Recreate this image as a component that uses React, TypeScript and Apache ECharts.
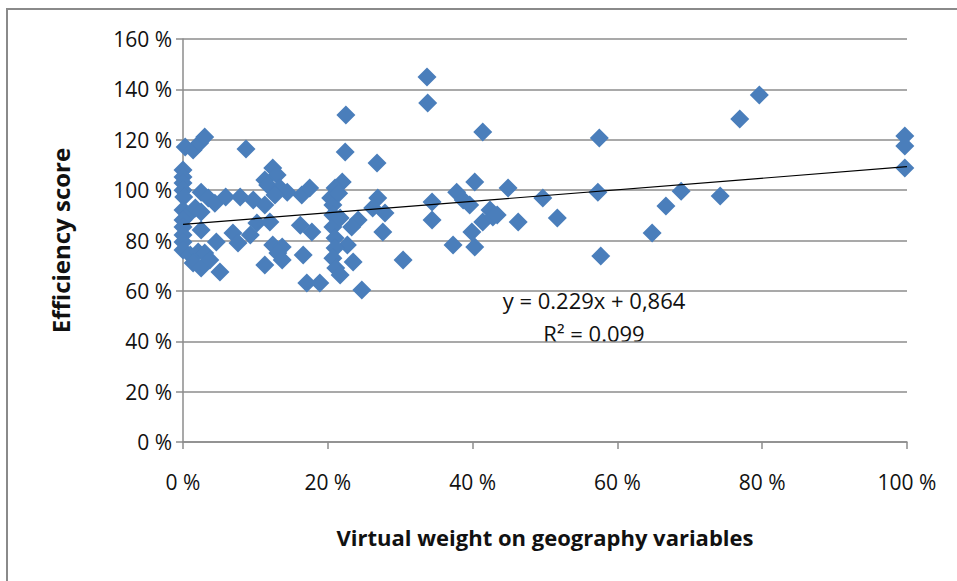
import React, { useEffect, useRef } from "react";
import * as echarts from "echarts";

// Virtual weight on geography variables (%)
const weightX: number[] = [
  0.3, 1.4, 2.3, 3.0, 8.7, 0, 0, 0, 0, 0.1, 2.5, 3.5, 4.4, 5.9, 7.9, 9.7,
  0, 0.7, 1.7, 2.5, 0, 0, 2.5, 0, 0, 4.6, 6.9, 7.6, 9.3, 0, 1.0, 2.1, 3.0,
  1.4, 2.5, 3.7, 5.1,
  12.4, 13.0, 11.3, 11.7, 13.4, 14.4, 16.4, 17.5, 12.7, 11.3, 10.2, 12.0,
  16.2, 17.8, 12.4, 13.7, 13.1, 13.7, 16.6, 11.3, 17.1, 18.9,
  22.5, 22.4, 26.8, 22.0, 21.0, 26.9, 27.9, 26.2, 27.6, 24.2, 23.3, 22.7,
  23.5, 30.4, 24.7, 20.4, 20.7, 20.7, 20.7, 21.0, 21.0, 20.7, 21.1, 21.7,
  21.7, 21.5,
  33.7, 33.8, 41.4, 34.4, 34.4, 37.8, 40.3, 38.7, 39.6, 42.4, 41.4, 42.8,
  39.9, 37.3, 40.3,
  44.9, 49.7, 46.3, 51.7, 43.4,
  57.5, 57.3, 57.7, 64.8, 66.7, 68.8, 74.2, 76.9, 79.6, 99.7, 99.7, 99.7,
];

// Efficiency score (%)
const scoreY: number[] = [
  117.1, 115.9, 118.7, 121.1, 116.3, 108.0, 105.2, 102.8, 100.0, 97.3, 99.2,
  96.9, 94.8, 97.3, 97.3, 96.1,
  92.1, 90.1, 92.9, 91.3, 88.1, 85.4, 84.2, 82.2, 79.4, 79.4, 83.0, 79.0,
  82.2, 76.2, 74.2, 75.4, 75.0,
  71.1, 69.1, 72.3, 67.5,
  108.8, 106.0, 104.0, 102.0, 100.8, 99.2, 98.1, 100.8, 98.1, 94.1, 86.9,
  87.3, 86.1, 83.4, 78.2, 77.4, 75.0, 72.3, 74.2, 70.3, 63.1, 63.1,
  129.8, 115.1, 110.8, 103.2, 100.8, 96.9, 90.9, 92.9, 83.4, 88.1, 85.4, 78.2,
  71.5, 72.3, 60.3, 96.9, 94.1, 90.1, 85.4, 81.0, 77.0, 73.0, 69.1, 66.3,
  88.9, 98.8,
  144.9, 134.6, 123.1, 95.3, 88.1, 99.2, 103.2, 96.1, 94.1, 92.1, 87.3, 89.3,
  83.4, 78.2, 77.4,
  100.8, 96.9, 87.3, 88.9, 90.1,
  120.7, 99.2, 73.8, 83.0, 93.7, 99.6, 97.7, 128.2, 137.8, 121.5, 117.5, 108.8,
];

// Linear trendline y = slope * x + intercept (fractions)
const trendSlope = 0.229;
const trendIntercept = 0.864;
const trendLabel = "y = 0.229x + 0,864";
const r2Label = "R\u00B2 = 0.099";

const xTicks = [0, 20, 40, 60, 80, 100];
const yTicks = [0, 20, 40, 60, 80, 100, 120, 140, 160];

const FONT = "'Liberation Sans Narrow', 'Open Sans', sans-serif";

export default function App() {
  const ref = useRef<HTMLDivElement>(null);
  useEffect(() => {
    if (!ref.current) return;
    const chart = echarts.init(ref.current, undefined, { renderer: "svg" });
    const points = weightX.map((x, i) => [x, scoreY[i]]);
    const xMin = xTicks[0];
    const xMax = xTicks[xTicks.length - 1];
    const trend = [
      [xMin, trendSlope * xMin + trendIntercept * 100],
      [xMax, trendSlope * xMax + trendIntercept * 100],
    ];
    chart.setOption({
      animation: false,
      backgroundColor: "#ffffff",
      grid: { left: 183, right: 50, top: 39, bottom: 139 },
      xAxis: {
        type: "value",
        min: xMin,
        max: xMax,
        interval: 20,
        name: "Virtual weight on geography variables",
        nameLocation: "middle",
        nameGap: 84,
        nameTextStyle: { fontFamily: FONT, fontSize: 22, fontWeight: "bold", color: "#111" },
        axisLine: { show: true, lineStyle: { color: "#8c8c8c", width: 1.5 } },
        axisTick: { show: true, length: 7, lineStyle: { color: "#8c8c8c", width: 1.5 } },
        splitLine: { show: false },
        axisLabel: {
          margin: 29,
          fontFamily: FONT,
          fontSize: 21,
          color: "#111",
          formatter: (v: number) => `${v} %`,
        },
      },
      yAxis: {
        type: "value",
        min: yTicks[0],
        max: yTicks[yTicks.length - 1],
        interval: 20,
        name: "Efficiency score",
        nameLocation: "middle",
        nameGap: 111,
        nameRotate: 90,
        nameTextStyle: { fontFamily: FONT, fontSize: 24, fontWeight: "bold", color: "#111" },
        axisLine: { show: true, lineStyle: { color: "#8c8c8c", width: 1.5 } },
        axisTick: { show: true, length: 7, lineStyle: { color: "#8c8c8c", width: 1.5 } },
        splitLine: { show: true, lineStyle: { color: "#8c8c8c", width: 1.5 } },
        axisLabel: {
          margin: 11,
          fontFamily: FONT,
          fontSize: 21,
          color: "#111",
          formatter: (v: number) => `${v} %`,
        },
      },
      series: [
        {
          type: "scatter",
          data: points,
          symbol: "diamond",
          symbolSize: 19,
          itemStyle: { color: "#4A7EBB", opacity: 1 },
          z: 2,
        },
        {
          type: "line",
          data: trend,
          symbol: "none",
          lineStyle: { color: "#000", width: 1.2 },
          z: 3,
        },
      ],
      graphic: [
        {
          type: "rect",
          shape: { x: 7, y: 9, width: 960, height: 590 },
          style: { fill: "none", stroke: "#8a8a8a", lineWidth: 2 },
          silent: true,
        },
        {
          type: "text",
          x: 594,
          y: 300,
          style: {
            text: trendLabel,
            fontFamily: FONT,
            fontSize: 22,
            fill: "#111",
            align: "center",
            verticalAlign: "middle",
          },
        },
        {
          type: "text",
          x: 594,
          y: 333,
          style: {
            text: r2Label,
            fontFamily: FONT,
            fontSize: 22,
            fill: "#111",
            align: "center",
            verticalAlign: "middle",
          },
        },
      ],
    });
    return () => chart.dispose();
  }, []);
  return (
    <div
      ref={ref}
      style={{ position: "absolute", left: 0, top: 0, width: 957, height: 581 }}
    />
  );
}
